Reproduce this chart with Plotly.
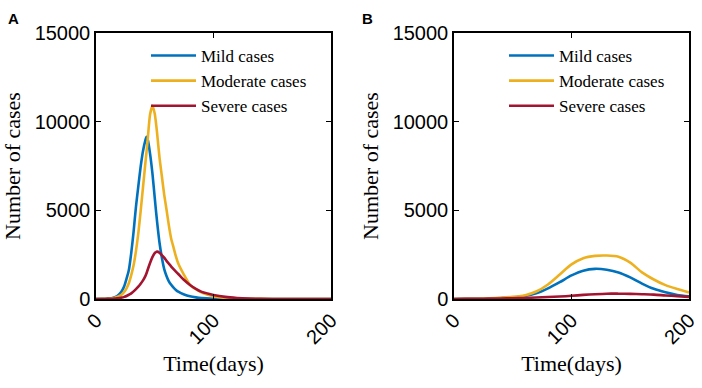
import plotly.graph_objects as go

# ---------------- data ----------------
series_names = ["Mild cases", "Moderate cases", "Severe cases"]

# Panel A
t_a = [0, 5, 10, 14, 16, 18, 20, 22, 24, 26, 28, 30, 32, 34, 36, 38, 40, 42, 43,
       44, 46, 48, 50, 51, 52, 54, 56, 58, 60, 62, 64, 66, 68, 70, 75, 80, 85, 90,
       100, 110, 120, 130, 140, 160, 180, 200]
mild_a = [0, 5, 20, 60, 100, 170, 280, 450, 720, 1150, 1650, 2600, 3800, 5200,
          6350, 7460, 8350, 8950, 9150, 9000, 8200, 7100, 5700, 5000, 4350, 3200,
          2350, 1700, 1300, 1000, 800, 640, 510, 410, 250, 150, 90, 50, 15, 5, 0,
          0, 0, 0, 0, 0]
moderate_a = [0, 5, 15, 40, 70, 110, 170, 260, 400, 600, 900, 1350, 1900, 2700,
              3700, 4950, 6300, 7650, 8300, 9000, 10400, 10890, 10450, 9950, 9350,
              8000, 6950, 5900, 5050, 4150, 3400, 2900, 2400, 2000, 1350, 800, 550,
              360, 150, 60, 25, 10, 5, 0, 0, 0]
severe_a = [0, 0, 5, 10, 20, 35, 55, 80, 120, 170, 240, 320, 430, 560, 700, 860,
            1050, 1290, 1450, 1650, 2030, 2360, 2590, 2650, 2670, 2610, 2480, 2330,
            2150, 1990, 1830, 1680, 1540, 1410, 1070, 790, 570, 400, 230, 120, 60,
            25, 10, 0, 0, 0]

# Panel B
t_b = [0, 10, 20, 30, 40, 50, 60, 70, 80, 90, 100, 110, 120, 130, 140, 150, 160,
       170, 180, 190, 200]
mild_b = [0, 5, 15, 30, 60, 100, 170, 320, 600, 950, 1330, 1600, 1700, 1650,
          1500, 1220, 870, 575, 380, 230, 150]
moderate_b = [0, 5, 15, 35, 70, 120, 200, 420, 820, 1380, 1950, 2300, 2430, 2450,
              2380, 2050, 1500, 1100, 780, 560, 370]
severe_b = [0, 5, 10, 20, 30, 45, 60, 85, 110, 140, 180, 230, 270, 300, 300, 290,
            270, 245, 200, 160, 120]

x_ticks = [0, 100, 200]
y_ticks = [0, 5000, 10000, 15000]

colors = ["#0072BD", "#EDB120", "#A2142F"]

# ---------------- figure ----------------
fig = go.Figure()

for name, ys, c in zip(series_names, [mild_a, moderate_a, severe_a], colors):
    fig.add_trace(go.Scatter(x=t_a, y=ys, name=name, mode="lines",
                             line=dict(color=c, width=2.6, shape="spline", smoothing=0.6),
                             xaxis="x", yaxis="y", legend="legend"))
for name, ys, c in zip(series_names, [mild_b, moderate_b, severe_b], colors):
    fig.add_trace(go.Scatter(x=t_b, y=ys, name=name, mode="lines",
                             line=dict(color=c, width=2.6, shape="spline", smoothing=0.8),
                             xaxis="x2", yaxis="y2", legend="legend2"))

W, H = 702, 388
ax_a = (96 / W, 331 / W)
ax_b = (454 / W, 689 / W)
ydom = (1 - 299 / H, 1 - 33 / H)

tickfont = dict(family="Liberation Sans, Arial", size=20, color="black")
titlefont = dict(family="Liberation Serif, Times New Roman", size=22, color="black")

def xax(dom, anchor):
    return dict(domain=dom, anchor=anchor, range=[0, 200], tickvals=x_ticks,
                ticktext=[str(v) for v in x_ticks], tickangle=-45,
                ticks="inside", ticklen=5, tickwidth=1, tickcolor="black",
                showline=True, linecolor="black", linewidth=1.5, mirror="ticks",
                showgrid=False, zeroline=False, tickfont=tickfont, automargin=False,
                title=dict(text="Time(days)", font=titlefont, standoff=8))

def yax(anchor):
    return dict(domain=ydom, anchor=anchor, range=[0, 15000], tickvals=y_ticks,
                ticktext=[str(v) for v in y_ticks],
                ticks="inside", ticklen=5, tickwidth=1, tickcolor="black",
                showline=True, linecolor="black", linewidth=1.5, mirror="ticks",
                showgrid=False, zeroline=False, tickfont=tickfont, automargin=False,
                title=dict(text="Number of cases", font=titlefont, standoff=8))

legfont = dict(family="Liberation Serif, Times New Roman", size=17, color="black")

fig.update_layout(
    width=W, height=H,
    margin=dict(l=0, r=0, t=0, b=0, autoexpand=False),
    paper_bgcolor="white", plot_bgcolor="white",
    xaxis=xax(ax_a, "y"), yaxis=yax("x"),
    xaxis2=xax(ax_b, "y2"), yaxis2=yax("x2"),
    legend=dict(x=146 / W, y=1 - 38 / H, xanchor="left", yanchor="top",
                bgcolor="rgba(0,0,0,0)", font=legfont, itemwidth=45,
                tracegroupgap=0),
    legend2=dict(x=504 / W, y=1 - 38 / H, xanchor="left", yanchor="top",
                 bgcolor="rgba(0,0,0,0)", font=legfont, itemwidth=45,
                 tracegroupgap=0),
    showlegend=True,
    hovermode=False,
    annotations=[
        dict(text="<b>A</b>", x=6 / W, y=1 - 8 / H, xref="paper", yref="paper",
             xanchor="left", yanchor="top", showarrow=False,
             font=dict(family="Liberation Sans, Arial", size=15, color="black")),
        dict(text="<b>B</b>", x=360 / W, y=1 - 8 / H, xref="paper", yref="paper",
             xanchor="left", yanchor="top", showarrow=False,
             font=dict(family="Liberation Sans, Arial", size=15, color="black")),
    ],
)

fig.write_html("out.html", config={"displayModeBar": False},
               post_script="document.body.style.margin='0';document.body.style.padding='0';")
